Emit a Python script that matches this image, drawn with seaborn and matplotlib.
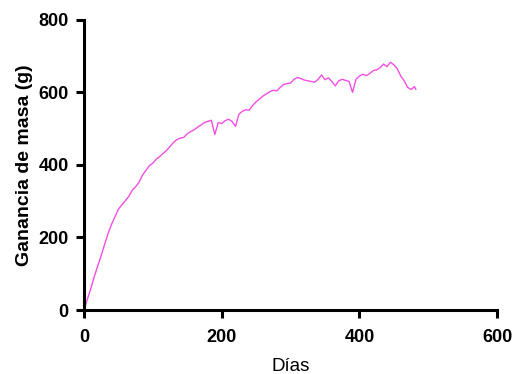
import matplotlib
matplotlib.use("Agg")
import matplotlib.pyplot as plt
import seaborn as sns
import pandas as pd

days = [0, 5, 10, 15, 20, 25, 30, 35, 40, 45, 50, 55, 60, 65, 70, 75, 80, 85, 90, 95,
        100, 105, 110, 115, 120, 125, 130, 135, 140, 145, 150, 155, 160, 165, 170, 175,
        180, 185, 190, 195, 200, 205, 210, 215, 220, 225, 230, 235, 240, 245, 250, 255,
        260, 265, 270, 275, 280, 285, 290, 295, 300, 305, 310, 315, 320, 325, 330, 335,
        340, 345, 350, 355, 360, 365, 370, 375, 380, 385, 390, 395, 400, 405, 410, 415,
        420, 425, 430, 435, 440, 445, 450, 455, 460, 465, 470, 475, 480, 482]
gain = [0, 30, 60, 92, 122, 150, 181, 211, 236, 257, 278, 290, 301, 313, 330, 340,
        352, 372, 385, 398, 405, 416, 423, 432, 440, 451, 462, 470, 474, 476, 486, 492,
        497, 504, 510, 517, 520, 523, 484, 517, 514, 522, 526, 520, 506, 540, 548, 552,
        551, 564, 574, 582, 590, 596, 602, 606, 604, 614, 622, 624, 626, 636, 641, 638,
        634, 632, 630, 628, 636, 648, 635, 640, 630, 618, 632, 636, 633, 630, 600, 636,
        645, 650, 646, 652, 660, 662, 668, 678, 671, 683, 676, 665, 645, 632, 614, 608,
        616, 608]

x_ticks = [0, 200, 400, 600]
y_ticks = [0, 200, 400, 600, 800]

sns.set_style("ticks")
plt.rcParams['font.family'] = ['Liberation Sans', 'DejaVu Sans']
plt.rcParams['text.color'] = 'black'
plt.rcParams['axes.labelcolor'] = 'black'
plt.rcParams['xtick.color'] = 'black'
plt.rcParams['ytick.color'] = 'black'

fig = plt.figure(figsize=(5.12, 3.74), dpi=100)
ax = fig.add_axes([0.164, 0.171, 0.807, 0.776])

df = pd.DataFrame({"Días": days, "g": gain})
sns.lineplot(data=df, x="Días", y="g", ax=ax, color="#F24FE2", linewidth=1.0)

ax.set_xlim(0, 600)
ax.set_ylim(0, 800)
ax.set_xticks(x_ticks)
ax.set_yticks(y_ticks)
ax.set_xticklabels([str(t) for t in x_ticks], fontsize=13, fontweight="bold")
ax.set_yticklabels([str(t) for t in y_ticks], fontsize=13, fontweight="bold")
ax.tick_params(axis="both", direction="out", length=6, width=2.2)
ax.tick_params(axis="x", pad=8)
ax.tick_params(axis="y", pad=5)

for side in ["left", "bottom"]:
    ax.spines[side].set_linewidth(2.2)
    ax.spines[side].set_color("black")
for side in ["top", "right"]:
    ax.spines[side].set_visible(False)

ax.set_xlabel("Días", fontsize=13.5, labelpad=8)
ax.set_ylabel("Ganancia de masa (g)", fontsize=14, fontweight="bold", labelpad=4)

fig.savefig("out.png", dpi=100)
